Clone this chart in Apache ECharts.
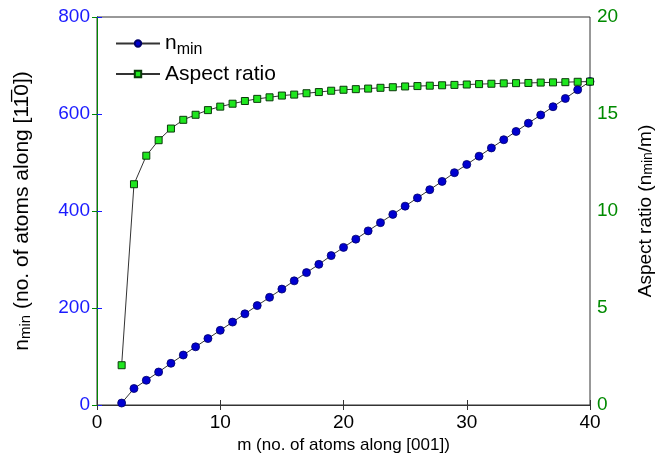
<!DOCTYPE html>
<html>
<head>
<meta charset="utf-8">
<script src="https://cdn.jsdelivr.net/npm/echarts@6/dist/echarts.min.js"></script>
<style>
  html, body { margin: 0; padding: 0; background: #fff; }
  #chart { width: 663px; height: 459px; }
</style>
</head>
<body>
<div id="chart"></div>
<script>
  // m values (no. of atoms along [001])
  var mValues = [2, 3, 4, 5, 6, 7, 8, 9, 10, 11, 12, 13, 14, 15, 16, 17, 18, 19, 20,
    21, 22, 23, 24, 25, 26, 27, 28, 29, 30, 31, 32, 33, 34, 35, 36, 37, 38, 39, 40];
  var nMin = [4, 34, 51, 68, 86, 103, 120, 137, 154, 171, 188, 205, 222, 239, 256, 273, 290, 308, 325,
    342, 359, 376, 393, 410, 427, 444, 461, 479, 496, 513, 530, 547, 564, 581, 598, 615, 632, 650, 667];
  var aspectRatio = [2.05, 11.38, 12.85, 13.65, 14.25, 14.7, 14.96, 15.2, 15.38, 15.53, 15.67, 15.78, 15.86, 15.95, 16.0, 16.07, 16.13, 16.2, 16.25,
    16.28, 16.31, 16.35, 16.38, 16.42, 16.44, 16.46, 16.48, 16.5, 16.52, 16.54, 16.56, 16.58, 16.59, 16.6, 16.62, 16.63, 16.64, 16.66, 16.67];
  var xTicks = [0, 10, 20, 30, 40];

  var font = 'Liberation Sans, Arial, sans-serif';
  var blue = '#1a1aff';
  var green = '#008a00';

  var chart = echarts.init(document.getElementById('chart'));

  var option = {
    animation: false,
    backgroundColor: '#fff',
    textStyle: { fontFamily: font },
    grid: {
      left: 97, right: 72, top: 17, bottom: 54,
      show: true, borderColor: '#333', borderWidth: 1
    },
    legend: {
      orient: 'vertical',
      left: 110, top: 28,
      itemWidth: 44, itemHeight: 8, itemGap: 6,
      data: ['nmin', 'Aspect ratio'],
      formatter: function (name) {
        return name === 'nmin' ? 'n{sub|min}' : name;
      },
      textStyle: {
        fontFamily: font, fontSize: 21, color: '#000',
        rich: { sub: { fontFamily: font, fontSize: 16, padding: [12, 0, 0, 0] } }
      }
    },
    xAxis: [{
      type: 'value', min: 0, max: 40, interval: 10,
      position: 'bottom',
      axisLine: { show: true, lineStyle: { color: '#333' } },
      axisTick: { inside: true, length: 5, lineStyle: { color: '#333' } },
      axisLabel: {
        color: '#000', fontSize: 19, margin: 8,
        formatter: function (v) { return xTicks.indexOf(v) >= 0 ? String(v) : ''; }
      },
      splitLine: { show: false },
      name: 'm (no. of atoms along [001])',
      nameLocation: 'middle', nameGap: 26,
      nameTextStyle: { color: '#000', fontSize: 17, fontFamily: font }
    }, {
      type: 'value', min: 0, max: 40, interval: 10,
      position: 'top',
      axisLine: { show: true, lineStyle: { color: '#333' } },
      axisTick: { inside: true, length: 5, lineStyle: { color: '#333' } },
      axisLabel: { show: false },
      splitLine: { show: false }
    }],
    yAxis: [{
      type: 'value', min: 0, max: 800, interval: 200,
      position: 'left',
      axisLine: { show: true, lineStyle: { color: blue } },
      axisTick: { show: true, inside: true, length: 5, lineStyle: { color: blue } },
      axisLabel: { color: blue, fontSize: 19, margin: 7 },
      splitLine: { show: false },
      name: 'n{sub|min} (no. of atoms along [11\u03050])',
      nameLocation: 'middle', nameGap: 64,
      nameTextStyle: {
        color: '#000', fontSize: 21, fontFamily: font,
        rich: { sub: { fontFamily: font, fontSize: 15, verticalAlign: 'bottom' } }
      }
    }, {
      type: 'value', min: 0, max: 20, interval: 5,
      position: 'right',
      axisLine: { show: true, lineStyle: { color: green } },
      axisTick: { show: true, inside: true, length: 5, lineStyle: { color: green } },
      axisLabel: { color: green, fontSize: 19, margin: 7 },
      splitLine: { show: false },
      name: 'Aspect ratio (n{sub|min}/m)',
      nameLocation: 'middle', nameGap: 46, nameRotate: 90,
      nameTextStyle: {
        color: '#000', fontSize: 19, fontFamily: font,
        rich: { sub: { fontFamily: font, fontSize: 14, verticalAlign: 'bottom' } }
      }
    }],
    series: [{
      name: 'nmin',
      type: 'line',
      xAxisIndex: 0, yAxisIndex: 0,
      data: mValues.map(function (m, i) { return [m, nMin[i]]; }),
      symbol: 'circle', symbolSize: 8,
      lineStyle: { color: '#333', width: 1 },
      itemStyle: { color: '#0000d0', borderColor: '#00006a', borderWidth: 0.8 },
      z: 2
    }, {
      name: 'Aspect ratio',
      type: 'line',
      xAxisIndex: 0, yAxisIndex: 1,
      data: mValues.map(function (m, i) { return [m, aspectRatio[i]]; }),
      symbol: 'rect', symbolSize: 7,
      lineStyle: { color: '#333', width: 1 },
      itemStyle: { color: '#1ee61e', borderColor: '#0a3a0a', borderWidth: 1 },
      z: 3
    }]
  };

  chart.setOption(option);
</script>
</body>
</html>
